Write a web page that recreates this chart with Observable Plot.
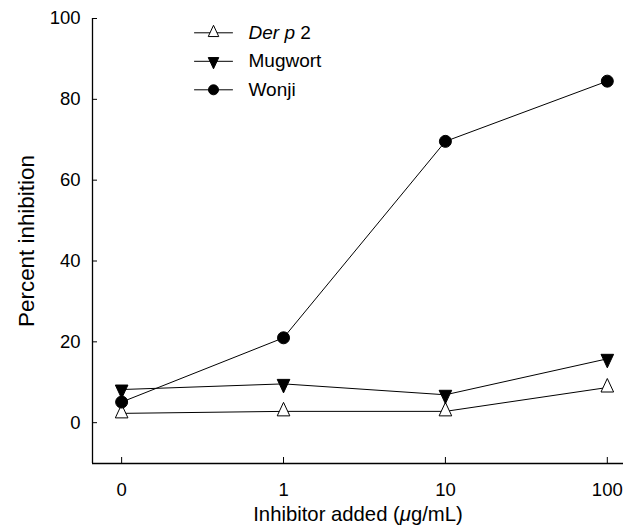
<!DOCTYPE html>
<html><head><meta charset="utf-8">
<script src="https://cdn.jsdelivr.net/npm/d3@7"></script>
<script src="https://cdn.jsdelivr.net/npm/@observablehq/plot@0.6"></script>
<style>body{margin:0;background:#fff} svg{display:block}</style>
</head><body><div id="chart"></div>
<script>
// ---- data ----
const doseLabels = ["0", "1", "10", "100"];
const seriesNames = ["Der p 2", "Mugwort", "Wonji"];
const derp2 = [2.3, 2.8, 2.8, 8.7];
const mugwort = [8.2, 9.6, 6.9, 15.8];
const wonji = [5.1, 21.0, 69.6, 84.5];
const yTicks = [0, 20, 40, 60, 80, 100];
const xLabel = "Inhibitor added (μg/mL)";
const yLabel = "Percent inhibition";

const xDomain = [-0.18, 3.1];
const yDomain = [-10.1, 100];
const xIdx = doseLabels.map((d, i) => i);

const seriesValues = [derp2, mugwort, wonji];
const rows = seriesNames.flatMap((s, k) => seriesValues[k].map((v, i) => ({series: s, i, value: v})));

// ---- symbols ----
function tri(dir) {
  return {draw(ctx, size) {
    const r = Math.sqrt(size / Math.PI);
    const a = 1.05 * r, h = 2.25 * r;
    if (dir > 0) { ctx.moveTo(0, -2 * h / 3); ctx.lineTo(a, h / 3); ctx.lineTo(-a, h / 3); }
    else { ctx.moveTo(0, 2 * h / 3); ctx.lineTo(a, -h / 3); ctx.lineTo(-a, -h / 3); }
    ctx.closePath();
  }};
}
const symUp = tri(1), symDown = tri(-1);
const styles = {
  "Der p 2": {symbol: symUp, fill: "white"},
  "Mugwort": {symbol: symDown, fill: "black"},
  "Wonji": {symbol: "circle", fill: "black"}
};
const segShape = {draw(ctx, l) { ctx.moveTo(0, 0); ctx.lineTo(0, -l); }};

const marks = [
  Plot.ruleX([xDomain[0]], {stroke: "black", strokeWidth: 1.3}),
  Plot.ruleY([yDomain[0]], {stroke: "black", strokeWidth: 1.3}),
  // inward ticks
  Plot.ruleY(yTicks, {x1: () => xDomain[0], x2: () => xDomain[0], insetRight: -5, stroke: "black"}),
  Plot.ruleX(xIdx, {y1: () => yDomain[0], y2: () => yDomain[0], insetTop: -6, stroke: "black"}),
  Plot.axisY({ticks: yTicks, tickSize: 0, tickPadding: 12, label: null, fontSize: 18.5}),
  Plot.axisX({ticks: xIdx, tickFormat: i => doseLabels[i], tickSize: 0, tickPadding: 19, label: null, fontSize: 18.5}),
  Plot.text([yLabel], {frameAnchor: "left", rotate: -90, dx: -66, textAnchor: "middle", lineAnchor: "middle", fontSize: 22.4, text: d => d}),
  Plot.text([xLabel], {frameAnchor: "bottom", dy: 51, textAnchor: "middle", lineAnchor: "middle", fontSize: 20.3, text: d => d}),
  Plot.line(rows, {x: "i", y: "value", z: "series", stroke: "black", strokeWidth: 1})
];
for (const s of seriesNames) {
  const st = styles[s];
  marks.push(Plot.dot(rows.filter(d => d.series === s), {x: "i", y: "value", symbol: st.symbol, r: 6, fill: st.fill, stroke: "black", strokeWidth: 1}));
}
seriesNames.forEach((s, k) => {
  const st = styles[s];
  const dy = 14.3 + k * 28.5;
  marks.push(Plot.vector([s], {frameAnchor: "top-left", dx: 102, dy, length: 38, rotate: 90, anchor: "start", shape: segShape, stroke: "black", strokeWidth: 1}));
  marks.push(Plot.dot([s], {frameAnchor: "top-left", dx: 121, dy, symbol: st.symbol, r: 5, fill: st.fill, stroke: "black", strokeWidth: 1}));
  marks.push(Plot.text([s], {frameAnchor: "top-left", dx: 156, dy, text: d => d, textAnchor: "start", lineAnchor: "middle", fontSize: 19}));
});

const chart = Plot.plot({
  width: 634, height: 527,
  marginLeft: 92, marginRight: 11, marginTop: 18, marginBottom: 64,
  x: {type: "linear", domain: xDomain},
  y: {domain: yDomain},
  style: {fontFamily: "'Liberation Sans', Arial, sans-serif", fontSize: "18px", color: "black", background: "white"},
  marks
});

// italic parts
function italicize(el, parts) {
  while (el.firstChild) el.removeChild(el.firstChild);
  for (const [t, it] of parts) {
    const ts = document.createElementNS("http://www.w3.org/2000/svg", "tspan");
    ts.textContent = t;
    if (it) ts.setAttribute("font-style", "italic");
    el.appendChild(ts);
  }
}
for (const t of chart.querySelectorAll("text")) {
  if (t.textContent === "Der p 2") italicize(t, [["Der p", true], [" 2", false]]);
  else if (t.textContent === xLabel) italicize(t, [["Inhibitor added (", false], ["μ", true], ["g/mL)", false]]);
}
document.getElementById("chart").appendChild(chart);
</script>
</body></html>
